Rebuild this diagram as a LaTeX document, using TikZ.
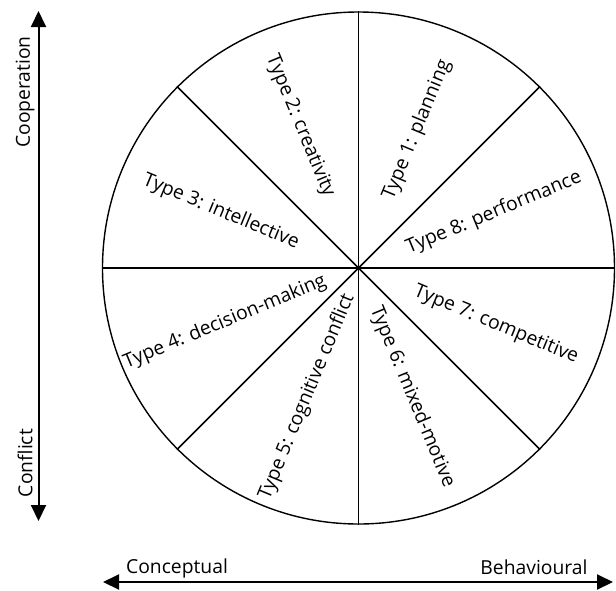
\documentclass[tikz,border=0pt]{standalone}
\usepackage{fontspec}
\setmainfont{Open Sans}
\usetikzlibrary{arrows.meta}
\begin{document}
\begin{tikzpicture}[x=1pt,y=-1pt,
  lbl/.style={font=\fontsize{19.3}{22}\selectfont, inner sep=0pt},
  spoke/.style={line width=1.6pt},
  axis/.style={line width=2pt, {Triangle[length=16pt,width=15pt]}-{Triangle[length=16pt,width=15pt]}}]
\useasboundingbox (0,0) rectangle (616,590);
\node[circle, draw, line width=1.4pt, minimum size=512pt, inner sep=0pt] (wheel) at (358.5,268) {};
\draw[spoke] (wheel.north) -- (wheel.south);
\draw[spoke] (wheel.west) -- (wheel.east);
\draw[spoke] (wheel.45) -- (wheel.225);
\draw[spoke] (wheel.135) -- (wheel.315);
\node[lbl, rotate=67.5] (t1) at (417,130) {Type 1: planning};
\node[lbl, rotate=-67.5] (t2) at (300,126) {Type 2: creativity};
\node[lbl, rotate=-22.5] (t3) at (221,212) {Type 3: intellective};
\node[lbl, rotate=22.5] (t4) at (225,322) {Type 4: decision-making};
\node[lbl, rotate=67.5] (t5) at (307,397) {Type 5: cognitive conflict};
\node[lbl, rotate=-67.5] (t6) at (412,397) {Type 6: mixed-motive};
\node[lbl, rotate=-22.5] (t7) at (496,325) {Type 7: competitive};
\node[lbl, rotate=22.5] (t8) at (494,213) {Type 8: performance};
\coordinate (vt) at (38.5,11);
\coordinate (vb) at (38.5,521);
\draw[axis] (vb) -- (vt);
\coordinate (hl) at (103,582);
\coordinate (hr) at (613,582);
\draw[axis] (hl) -- (hr);
\node[lbl, rotate=90] (coop) at (25,92) {Cooperation};
\node[lbl, rotate=90] (conf) at (25,463) {Conflict};
\node[lbl] (conc) at (177,568) {Conceptual};
\node[lbl] (beh) at (534,567) {Behavioural};
\end{tikzpicture}
\end{document}
